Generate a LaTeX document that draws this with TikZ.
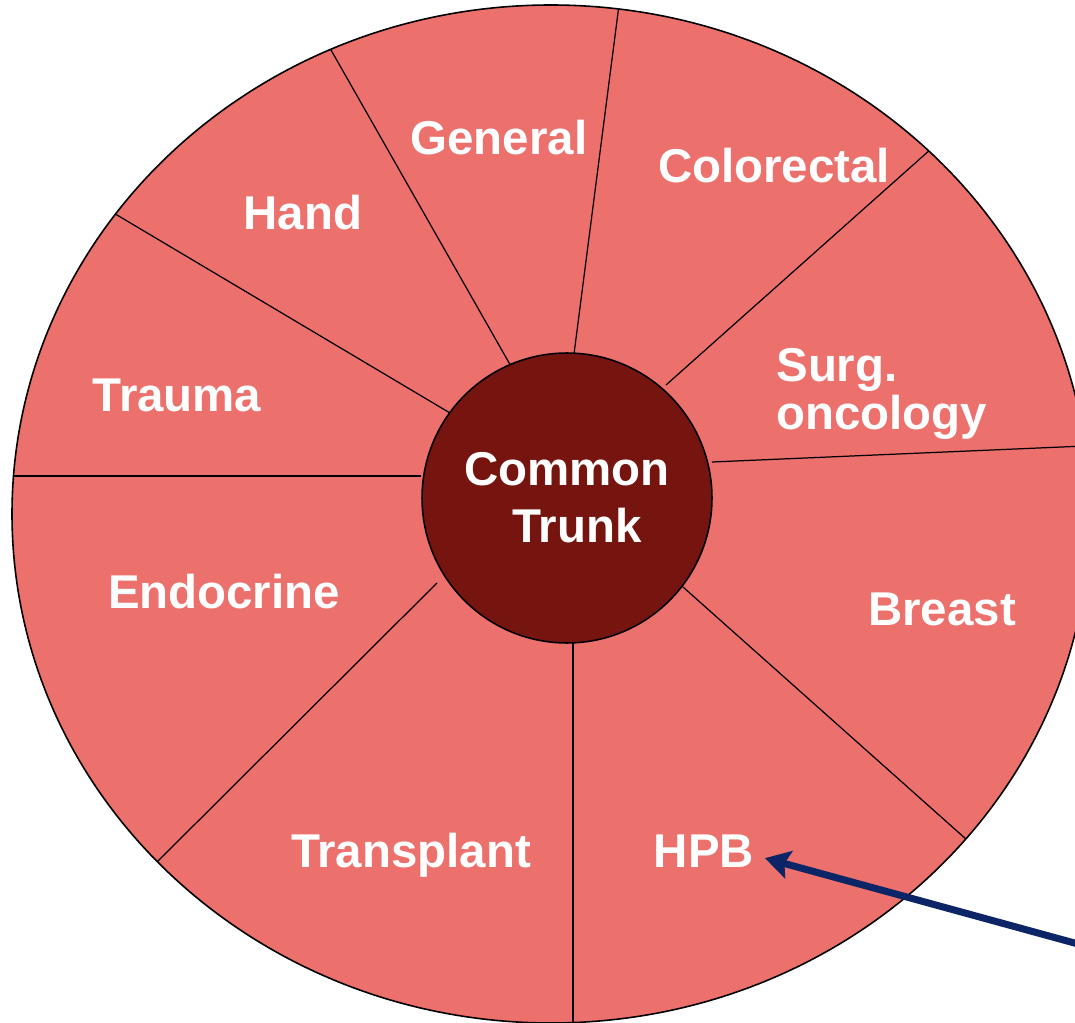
\documentclass[tikz,border=0pt]{standalone}
\usepackage{fontspec}
\setmainfont{Liberation Sans}
\usetikzlibrary{arrows.meta, positioning, calc}
\definecolor{ring}{HTML}{EC706C}
\definecolor{trunkred}{HTML}{76150F}
\definecolor{navy}{HTML}{0B2566}
\tikzset{
  specialty/.style={text=white, inner sep=0pt, anchor=base,
    font=\fontsize{27}{27.3}\selectfont\bfseries},
  spoke/.style={line width=0.7pt}
}
\begin{document}
\begin{tikzpicture}[x=0.02cm, y=-0.02cm]
  \useasboundingbox (0,0) rectangle (1075,1023);
  \clip (0,0) rectangle (1075,1023);
  \fill[white] (0,0) rectangle (1075,1023);
  % Outer ring
  \fill[ring] (551,514) ellipse [x radius=539, y radius=509];
  % Spokes
  \begin{scope}
    \clip (551,514) ellipse [x radius=539, y radius=509];
    \foreach \xa/\ya/\xb/\yb in {421/476/0/476, 450/413/117/215,
        512/368/331/50, 574/354/619/5, 666/385/922/157,
        712/462/1085/446, 683/587/967/840, 573/643/573/1030,
        437/583/163/856}
      \draw[spoke] (\xa,\ya) -- ($(\xa,\ya)!1.08!(\xb,\yb)$);
  \end{scope}
  \draw[line width=0.9pt] (551,514) ellipse [x radius=539, y radius=509];
  % Common trunk
  \node[circle, draw, line width=0.9pt, fill=trunkred, minimum size=5.8cm,
        inner sep=0pt, text=white, align=center,
        font=\fontsize{27}{32.4}\selectfont\bfseries] (trunk) at (567,498)
        {Common\\\hspace*{0.4cm}Trunk};
  % Specialties
  \node[specialty] (general) at (499,155) {General};
  \node[specialty] (colorectal) at (774,183) {Colorectal};
  \node[specialty] (hand) at (303,230) {Hand};
  \node[specialty] (trauma) at (177,412) {Trauma};
  \node[specialty, anchor=west, align=left] (oncology) at (776,394)
        {Surg.\\oncology};
  \node[specialty] (endocrine) at (224,608) {Endocrine};
  \node[specialty] (breast) at (942,625) {Breast};
  \node[specialty] (transplant) at (411,867) {Transplant};
  \node[specialty, inner sep=6pt] (hpb) at (704,867) {HPB};
  % Pointer
  \coordinate (tail) at (1100,950);
  \draw[navy, line width=4pt, -{Stealth[length=14pt, width=16pt, inset=2.5pt]}]
    (tail) -- (hpb.-7);
\end{tikzpicture}
\end{document}
